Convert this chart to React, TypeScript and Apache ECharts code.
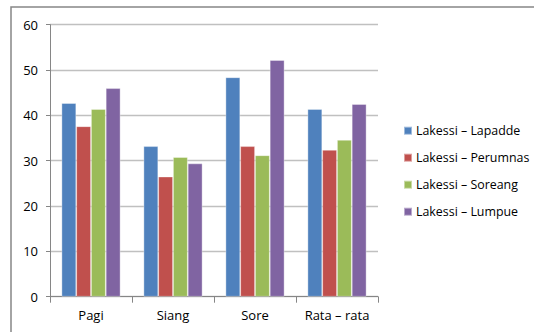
import React, { useEffect, useRef } from "react";
import * as echarts from "echarts";

const categories = ["Pagi", "Siang", "Sore", "Rata – rata"];
const seriesNames = [
  "Lakessi – Lapadde",
  "Lakessi – Perumnas",
  "Lakessi – Soreang",
  "Lakessi – Lumpue",
];
const lapadde = [42.7, 33.2, 48.4, 41.4];
const perumnas = [37.6, 26.5, 33.2, 32.4];
const soreang = [41.4, 30.8, 31.2, 34.6];
const lumpue = [46.0, 29.4, 52.2, 42.5];
const colors = ["#4F81BD", "#C0504D", "#9BBB59", "#8064A2"];

const FONT = '"Open Sans", "Noto Sans", sans-serif';

export default function App() {
  const ref = useRef<HTMLDivElement>(null);

  useEffect(() => {
    if (!ref.current) return;
    const chart = echarts.init(ref.current, null, { renderer: "svg" });
    const values = [lapadde, perumnas, soreang, lumpue];
    chart.setOption({
      animation: false,
      backgroundColor: "#ffffff",
      textStyle: { fontFamily: FONT },
      graphic: [
        {
          type: "rect",
          shape: { x: 11, y: 7, width: 600, height: 400 },
          style: { fill: "none", stroke: "#868686", lineWidth: 1.5 },
          silent: true,
        },
      ],
      grid: { left: 50, top: 24.7, right: 156, bottom: 35.3 },
      legend: {
        orient: "vertical",
        left: 403,
        top: 122.7,
        padding: 0,
        itemWidth: 8,
        itemHeight: 8,
        itemGap: 11,
        icon: "rect",
        data: seriesNames,
        textStyle: {
          fontFamily: FONT,
          fontSize: 12.4,
          lineHeight: 16,
          color: "#000",
          padding: [0, 0, 0, -1],
        },
      },
      xAxis: {
        type: "category",
        data: categories,
        axisLine: { lineStyle: { color: "#868686", width: 1 } },
        axisTick: {
          show: true,
          interval: 0,
          length: 6,
          lineStyle: { color: "#868686" },
        },
        axisLabel: {
          interval: 0,
          color: "#000",
          fontFamily: FONT,
          fontSize: 13,
          margin: 12,
        },
      },
      yAxis: {
        type: "value",
        min: 0,
        max: 60,
        interval: 10,
        axisLine: { show: true, lineStyle: { color: "#868686", width: 1 } },
        axisTick: { show: true, length: 4, lineStyle: { color: "#868686" } },
        splitLine: { lineStyle: { color: "#C0C0C0", width: 1.3 } },
        axisLabel: {
          color: "#000",
          fontFamily: FONT,
          fontSize: 13,
          margin: 12,
        },
      },
      series: values.map((d, i) => ({
        name: seriesNames[i],
        type: "bar",
        data: d,
        barGap: "0%",
        barCategoryGap: "28%",
        itemStyle: {
          color: colors[i],
          borderColor: "rgba(255,255,255,0.45)",
          borderWidth: 0.8,
        },
      })),
    });
    return () => chart.dispose();
  }, []);

  return (
    <div
      ref={ref}
      style={{ position: "absolute", left: 0, top: 0, width: 534, height: 332 }}
    />
  );
}
